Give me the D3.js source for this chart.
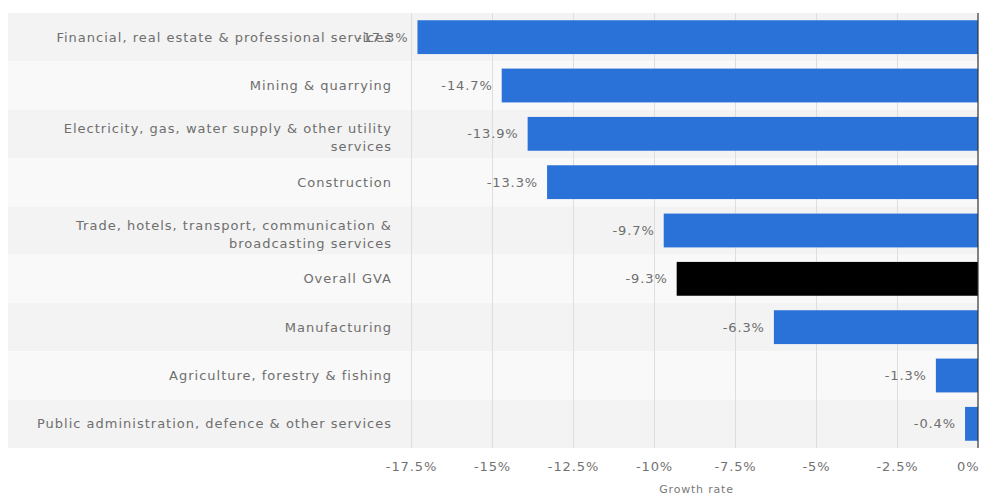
<!DOCTYPE html>
<html>
  <head>
    <title>GVA growth by sector</title>
    <script src="https://d3js.org/d3.v7.min.js"></script>
    <style>
      body { margin: 0; background: #fff; }
      svg { display: block; font-family: "DejaVu Sans", sans-serif; }
    </style>
  </head>
  <body>
    <svg></svg>
    <script>
      // sectors, top to bottom (label lines)
      const categories = [
        ['Financial, real estate & professional services'],
        ['Mining & quarrying'],
        ['Electricity, gas, water supply & other utility', 'services'],
        ['Construction'],
        ['Trade, hotels, transport, communication &', 'broadcasting services'],
        ['Overall GVA'],
        ['Manufacturing'],
        ['Agriculture, forestry & fishing'],
        ['Public administration, defence & other services']
      ];
      const growth = [-17.3, -14.7, -13.9, -13.3, -9.7, -9.3, -6.3, -1.3, -0.4];
      const highlight = ['Overall GVA'];
      const ticks = [-17.5, -15, -12.5, -10, -7.5, -5, -2.5, 0];
      const tickLabels = ['-17.5%', '-15%', '-12.5%', '-10%', '-7.5%', '-5%', '-2.5%', '0%'];
      const xAxisLabel = 'Growth rate';

      const svg = d3.select('svg')
        .attr('width', 985)
        .attr('height', 496);

      var plot = { left: 411, right: 978, top: 13, bottom: 448 };

      const data = categories.map((c, i) => ({ key: c.join(' '), lines: c, value: growth[i] }));

      const xScale = d3.scaleLinear()
        .domain([d3.min(ticks), 0])
        .range([plot.left, plot.right]);

      const yScale = d3.scaleBand()
        .domain(data.map(d => d.key))
        .range([plot.top, plot.bottom])
        .paddingInner(0.3)
        .paddingOuter(0.15);

      // row stripes
      const step = yScale.step();
      svg.append('g').selectAll('rect').data(data)
        .enter().append('rect')
          .attr('x', 8)
          .attr('y', d => yScale(d.key) - yScale.paddingOuter() * step)
          .attr('width', plot.right - 8)
          .attr('height', step)
          .attr('fill', (d, i) => i % 2 ? '#f9f9f9' : '#f3f3f3');

      // grid lines
      const gridG = svg.append('g')
        .attr('transform', `translate(0,${plot.bottom})`)
        .call(d3.axisBottom(xScale).tickValues(ticks.slice(0, -1)).tickSize(-(plot.bottom - plot.top)).tickFormat(''));
      gridG.select('.domain').remove();
      gridG.selectAll('line').attr('stroke', '#dedede');

      // tick labels
      const xAxisG = svg.append('g')
        .attr('transform', `translate(0,${plot.bottom})`)
        .call(d3.axisBottom(xScale).tickValues(ticks).tickSize(0).tickPadding(14)
          .tickFormat((d, i) => tickLabels[i]));
      xAxisG.select('.domain').remove();
      xAxisG.selectAll('text')
        .attr('fill', '#727272')
        .style('font-size', '13px')
        .style('letter-spacing', '0.9px')
        .style('font-family', '"DejaVu Sans", sans-serif');
      xAxisG.selectAll('.tick').filter(d => d === 0).select('text')
        .attr('text-anchor', 'end')
        .attr('x', 1);

      svg.append('text')
        .attr('x', (xScale(-17.5) + xScale(0)) / 2 + 2)
        .attr('y', 493)
        .attr('text-anchor', 'middle')
        .attr('fill', '#7a7a7a')
        .style('font-size', '11px')
        .style('letter-spacing', '0.8px')
        .text(xAxisLabel);

      // bars
      svg.append('g').selectAll('rect').data(data)
        .enter().append('rect')
          .attr('x', d => xScale(d.value))
          .attr('y', d => yScale(d.key))
          .attr('width', d => xScale(0) - xScale(d.value))
          .attr('height', yScale.bandwidth())
          .attr('fill', d => highlight.includes(d.key) ? '#000000' : '#2a72d8');

      // zero line
      svg.append('line')
        .attr('x1', xScale(0)).attr('x2', xScale(0))
        .attr('y1', plot.top).attr('y2', plot.bottom)
        .attr('stroke', '#333')
        .attr('stroke-width', 1.2);

      // category labels
      const labelG = svg.append('g').selectAll('text').data(data)
        .enter().append('text')
          .attr('x', 392)
          .attr('y', d => yScale(d.key) + yScale.bandwidth() / 2)
          .attr('text-anchor', 'end')
          .attr('fill', '#6e6e6e')
          .style('font-size', '13px')
          .style('letter-spacing', '1px');
      labelG.selectAll('tspan').data(d => d.lines.map(l => ({ l, n: d.lines.length })))
        .enter().append('tspan')
          .attr('x', 392)
          .attr('dy', (t, i) => t.n === 1 ? '0.35em' : (i === 0 ? '-0.05em' : '1.4em'))
          .text(t => t.l);

      // value labels
      svg.append('g').selectAll('text').data(data)
        .enter().append('text')
          .attr('x', d => xScale(d.value) - 9)
          .attr('y', d => yScale(d.key) + yScale.bandwidth() / 2)
          .attr('dy', '0.35em')
          .attr('text-anchor', 'end')
          .attr('fill', '#6e6e6e')
          .style('font-size', '13px')
          .style('letter-spacing', '0.9px')
          .text(d => d.value.toFixed(1) + '%');
    </script>
  </body>
</html>
